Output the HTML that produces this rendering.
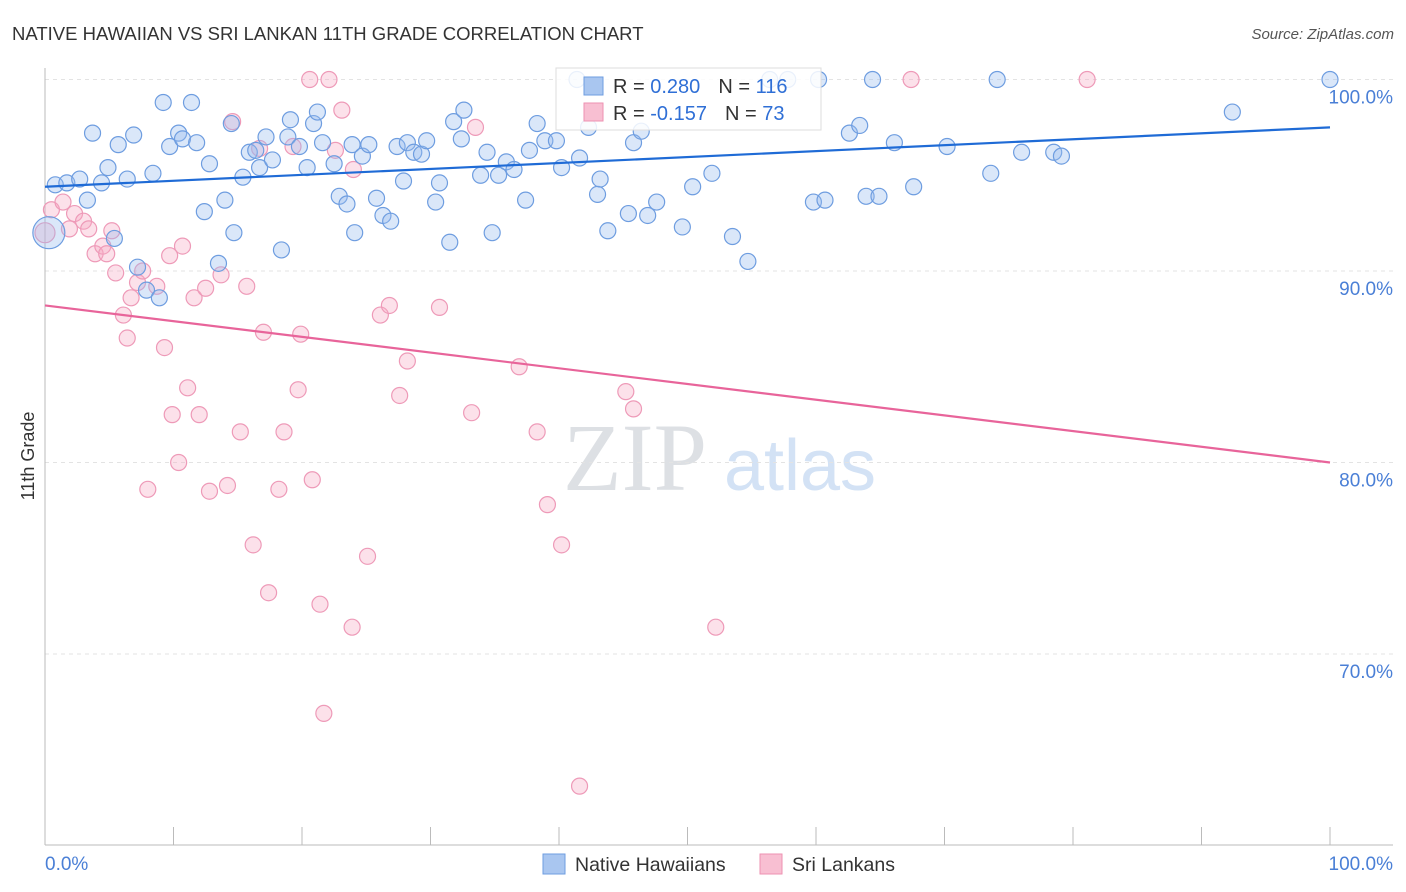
<!DOCTYPE html>
<html><head><meta charset="utf-8">
<style>
body{margin:0;background:#fff;font-family:"Liberation Sans",sans-serif;}
svg{display:block}
</style></head>
<body>
<svg id="chart" width="1406" height="892">
<text x="12" y="40" font-size="18.5" fill="#333">NATIVE HAWAIIAN VS SRI LANKAN 11TH GRADE CORRELATION CHART</text>
<text x="1394" y="39" font-size="15" fill="#555" font-style="italic" text-anchor="end">Source: ZipAtlas.com</text>
<text x="635" y="490" font-size="96" fill="#dde0e4" font-family="Liberation Serif,serif" text-anchor="middle">ZIP</text>
<text x="800" y="490" font-size="72" fill="#d3e2f5" text-anchor="middle">atlas</text>
<text transform="translate(34,456) rotate(-90)" font-size="18" fill="#333" text-anchor="middle">11th Grade</text>
<g id="grid"></g><g id="ticks"></g><g id="pts"></g><g id="lines"></g>
<g>
<rect x="556" y="68" width="265" height="62" fill="#fff" fill-opacity="0.85" stroke="#ddd"/>
<rect x="584" y="77" width="19" height="18" fill="#a9c6f0" stroke="#6e9de0"/>
<rect x="584" y="103" width="19" height="18" fill="#f8bfd2" stroke="#ee92b2"/>
<text x="613" y="93" font-size="20" fill="#333">R = <tspan fill="#2f6fd6"> 0.280</tspan><tspan dx="18">N = </tspan><tspan fill="#2f6fd6"> 116</tspan></text>
<text x="613" y="120" font-size="20" fill="#333">R = <tspan fill="#2f6fd6">-0.157</tspan><tspan dx="18">N = </tspan><tspan fill="#2f6fd6">  73</tspan></text>
</g>
<g>
<rect x="543" y="854" width="22" height="20" fill="#a9c6f0" stroke="#6e9de0"/>
<text x="575" y="871" font-size="19.5" fill="#333">Native Hawaiians</text>
<rect x="760" y="854" width="22" height="20" fill="#f8bfd2" stroke="#ee92b2"/>
<text x="792" y="871" font-size="19.5" fill="#333">Sri Lankans</text>
</g>
</svg>
<script>
const xTicks=[0,10,20,30,40,50,60,70,80,90,100];
const yTicks=[70,80,90,100];
const yTickLabels=["70.0%","80.0%","90.0%","100.0%"];
const blueX=[0.8,1.7,2.7,3.7,3.3,4.4,4.9,5.4,5.7,6.4,6.9,7.2,7.9,8.4,8.9,9.2,9.7,10.4,10.7,11.4,11.8,12.4,12.8,13.5,14.0,14.5,14.7,15.4,15.9,16.4,16.7,17.2,17.7,18.4,18.9,19.1,19.8,20.4,20.9,21.2,21.6,22.5,22.9,23.5,23.9,24.1,24.7,25.2,25.8,26.3,26.9,27.4,27.9,28.2,28.7,29.3,29.7,30.4,30.7,31.5,31.8,32.4,32.6,33.9,34.4,34.8,35.3,35.9,36.5,37.4,37.7,38.3,38.9,39.8,40.2,41.4,41.6,42.3,43.0,43.2,43.8,45.4,45.8,46.4,46.9,47.6,49.6,50.4,51.9,53.5,54.7,56.4,57.8,59.8,60.7,62.6,63.4,63.9,64.4,64.9,66.1,67.6,70.2,73.6,74.1,76.0,78.5,79.1,92.4,100,60.2,0.3];
const blueY=[94.5,94.6,94.8,97.2,93.7,94.6,95.4,91.7,96.6,94.8,97.1,90.2,89.0,95.1,88.6,98.8,96.5,97.2,96.9,98.8,96.7,93.1,95.6,90.4,93.7,97.7,92.0,94.9,96.2,96.3,95.4,97.0,95.8,91.1,97.0,97.9,96.5,95.4,97.7,98.3,96.7,95.6,93.9,93.5,96.6,92.0,96.0,96.6,93.8,92.9,92.6,96.5,94.7,96.7,96.2,96.1,96.8,93.6,94.6,91.5,97.8,96.9,98.4,95.0,96.2,92.0,95.0,95.7,95.3,93.7,96.3,97.7,96.8,96.8,95.4,100,95.9,97.5,94.0,94.8,92.1,93.0,96.7,97.3,92.9,93.6,92.3,94.4,95.1,91.8,90.5,100,100,93.6,93.7,97.2,97.6,93.9,100,93.9,96.7,94.4,96.5,95.1,100,96.2,96.2,96.0,98.3,100,100,92.0];
const pinkX=[0,0.5,1.4,1.9,2.3,3.0,3.4,3.9,4.5,4.8,5.2,5.5,6.1,6.4,6.7,7.2,7.6,8.0,8.7,9.3,9.7,9.9,10.4,10.7,11.1,11.6,12.0,12.5,12.8,13.7,14.2,14.6,15.2,15.7,16.2,16.7,17.0,17.4,18.2,18.6,19.3,19.7,19.9,20.6,20.8,21.4,21.7,22.1,22.6,23.1,23.9,24.0,25.1,26.1,26.8,27.6,28.2,30.7,33.2,33.5,36.9,38.3,39.1,40.2,41.6,45.2,45.8,52.2,67.4,81.1];
const pinkY=[92,93.2,93.6,92.2,93.0,92.6,92.2,90.9,91.3,90.9,92.1,89.9,87.7,86.5,88.6,89.4,90.0,78.6,89.2,86.0,90.8,82.5,80.0,91.3,83.9,88.6,82.5,89.1,78.5,89.8,78.8,97.8,81.6,89.2,75.7,96.4,86.8,73.2,78.6,81.6,96.5,83.8,86.7,100,79.1,72.6,66.9,100,96.3,98.4,71.4,95.3,75.1,87.7,88.2,83.5,85.3,88.1,82.6,97.5,85.0,81.6,77.8,75.7,63.1,83.7,82.8,71.4,100,100];
const blueTrend=[94.4,97.5];
const pinkTrend=[88.2,80.0];
const NS='http://www.w3.org/2000/svg';
const sx=v=>45+v*12.85;
const sy=v=>79.5+(100-v)*19.15;
function mk(tag,attrs,parent){const e=document.createElementNS(NS,tag);for(const k in attrs)e.setAttribute(k,attrs[k]);document.getElementById(parent).appendChild(e);return e;}
yTicks.forEach((t,i)=>{
 const l=mk('line',{x1:45,x2:1393,y1:sy(t),y2:sy(t),stroke:'#e3e3e3','stroke-dasharray':'4,4'},'grid');
 
 
 const tx=mk('text',{x:1393,y:sy(t)+24,'font-size':19,fill:'#4a7fd6','text-anchor':'end'},'grid');
 tx.textContent=yTickLabels[i];
 
 
});
const ax=mk('line',{x1:45,x2:45,y1:68,y2:845,stroke:'#bbb'},'ticks');


const bx=mk('line',{x1:45,x2:1393,y1:845,y2:845,stroke:'#bbb'},'ticks');


xTicks.forEach(t=>{
 const l=mk('line',{x1:sx(t),x2:sx(t),y1:827,y2:845,stroke:'#bbb'},'ticks');
 
 
});
const x0=mk('text',{x:45,y:870,'font-size':19,fill:'#4a7fd6'},'ticks');x0.textContent='0.0%';


const x1=mk('text',{x:1393,y:870,'font-size':19,fill:'#4a7fd6','text-anchor':'end'},'ticks');x1.textContent='100.0%';


pinkX.forEach((x,i)=>{
 const c=mk('circle',{cx:sx(x),cy:sy(pinkY[i]),r:i==0?10:8,fill:'rgba(246,170,196,0.35)',stroke:'#ee9ab8','stroke-width':1.2},'pts');
 
 
});
blueX.forEach((x,i)=>{
 const big=i==blueX.length-1;
 const c=mk('circle',{cx:sx(x),cy:sy(blueY[i]),r:big?16:8,fill:'rgba(150,185,238,0.35)',stroke:'#6e9de0','stroke-width':1.2},'pts');
 
 
});
const bl=mk('line',{x1:sx(0),x2:sx(100),y1:sy(blueTrend[0]),y2:sy(blueTrend[1]),stroke:'#1f6bd6','stroke-width':2.2},'lines');


const pl=mk('line',{x1:sx(0),x2:sx(100),y1:sy(pinkTrend[0]),y2:sy(pinkTrend[1]),stroke:'#e8649a','stroke-width':2.2},'lines');


</script>
</body></html>
